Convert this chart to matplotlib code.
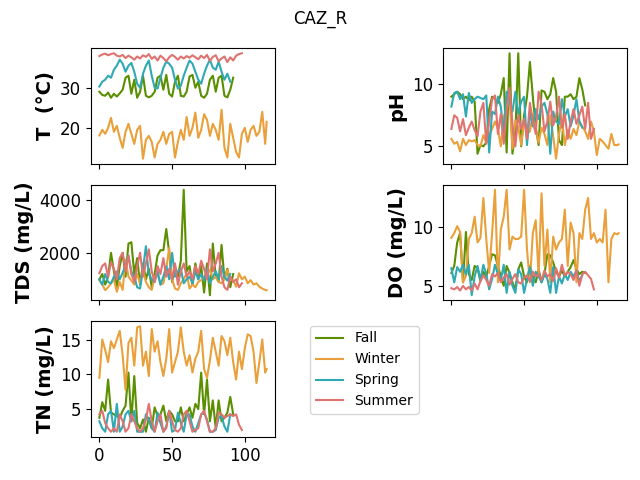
import numpy as np
import matplotlib
matplotlib.use("Agg")
import matplotlib.pyplot as plt

seasons = ["Fall", "Winter", "Spring", "Summer"]
colors = {"Fall": "#5a8f00", "Winter": "#e9a03a", "Spring": "#2fa9b3", "Summer": "#e0736f"}

x_fall = list(range(0, 93, 2))
x_winter = list(range(0, 115, 2)) + [115]
x_spring = list(range(0, 91, 2))
x_summer = list(range(0, 99, 2))

# Temperature
T_fall = [29.0, 28.2, 28.0, 28.8, 27.5, 28.5, 27.8, 28.6, 29.5, 32.5, 33.0, 28.5, 32.0, 27.5, 29.0, 33.0,
          28.0, 27.6, 28.0, 29.0, 32.5, 33.0, 29.5, 33.2, 28.5, 27.8, 31.5, 33.0, 28.0, 27.8, 29.0, 32.8,
          33.2, 30.0, 31.5, 28.0, 27.5, 28.5, 32.0, 33.0, 29.0, 32.5, 33.0, 28.0, 27.6, 29.5, 32.5]
T_winter = [18.1, 19.5, 18.5, 20.0, 22.5, 19.0, 20.5, 17.5, 15.0, 19.0, 21.0, 18.5, 16.0, 19.5, 20.5, 12.3,
            17.0, 18.0, 16.5, 12.6, 16.0, 17.0, 19.0, 16.0, 18.5, 19.0, 12.6, 16.5, 19.5, 17.0, 22.7, 18.0,
            20.0, 23.8, 17.5, 19.5, 23.4, 22.0, 18.0, 21.0, 19.5, 17.0, 24.5, 15.0, 12.6, 21.0, 17.5, 14.0,
            12.6, 18.5, 20.0, 16.5, 19.5, 20.5, 18.0, 19.0, 24.0, 16.0, 21.5]
T_spring = [30.3, 31.5, 32.0, 33.0, 32.5, 34.5, 35.5, 37.0, 36.0, 34.0, 35.5, 36.2, 34.0, 31.0, 30.0, 33.5,
            35.5, 36.8, 33.0, 30.0, 29.8, 32.5, 35.0, 36.5, 36.0, 35.0, 32.0, 29.8, 30.5, 33.0, 35.0, 36.8,
            36.0, 34.0, 32.0, 31.0, 33.5, 35.5, 37.0, 35.0, 34.5, 36.5, 34.0, 32.0, 33.5, 31.5]
T_summer = [37.9, 38.3, 38.5, 38.1, 38.4, 38.6, 38.0, 37.8, 38.2, 37.4, 38.0, 37.6, 37.0, 37.8, 37.3, 38.1,
            37.7, 38.4, 37.2, 37.8, 36.8, 38.0, 37.4, 36.6, 37.6, 38.2, 37.7, 37.0, 37.8, 37.3, 37.9, 37.5,
            38.1, 37.6, 37.1, 38.0, 37.4, 38.2, 36.7, 37.7, 38.1, 36.6, 37.3, 37.8, 36.4, 37.6, 36.8, 38.0,
            38.4, 38.6]

# pH
pH_fall = [9.0, 9.2, 9.4, 9.2, 8.8, 9.0, 8.7, 9.0, 8.6, 4.4, 5.1, 5.0, 5.3, 8.0, 9.0, 8.8, 8.5, 9.2, 10.5,
           4.5, 12.5, 4.4, 6.0, 12.5, 5.0, 7.5, 9.0, 11.8, 9.0, 6.5, 5.1, 9.5, 9.4, 8.8, 9.2, 10.5, 9.4,
           5.5, 5.1, 9.0, 9.0, 9.2, 8.8, 9.0, 10.5, 9.6, 8.3]
pH_winter = [5.6, 5.2, 5.35, 4.6, 5.6, 5.1, 5.5, 5.4, 5.5, 5.1, 5.0, 5.9, 5.3, 5.9, 6.4, 7.0, 6.4, 5.0, 7.4,
             8.0, 8.9, 4.8, 7.1, 6.5, 5.1, 7.2, 6.0, 6.2, 7.6, 6.4, 5.3, 6.5, 6.0, 5.1, 7.5, 5.8, 4.0, 6.0,
             7.2, 5.1, 6.3, 5.6, 6.4, 5.9, 7.0, 6.6, 6.2, 5.6, 7.0, 6.2, 4.3, 5.6, 5.4, 5.1, 4.8, 6.0, 5.1,
             5.1, 5.15]
pH_spring = [8.2, 9.3, 9.4, 8.8, 9.2, 7.4, 9.3, 8.5, 8.8, 9.0, 8.9, 8.8, 9.1, 4.5, 7.8, 7.6, 9.0, 8.2, 6.0,
             9.4, 8.6, 7.8, 9.4, 7.6, 8.6, 9.0, 5.1, 7.8, 6.6, 8.0, 7.2, 8.2, 8.5, 7.6, 4.4, 7.8, 7.0, 6.8,
             8.8, 7.4, 8.0, 6.6, 7.5, 8.8, 7.0, 6.5]
pH_summer = [6.4, 7.5, 7.3, 6.2, 7.2, 5.9, 6.5, 7.0, 6.3, 5.8, 7.8, 8.5, 5.2, 7.0, 8.8, 9.1, 6.0, 7.6, 5.2,
             7.8, 9.7, 6.8, 5.0, 7.5, 6.4, 7.2, 5.6, 8.5, 7.0, 6.0, 9.4, 8.4, 6.2, 7.0, 8.6, 6.7, 7.4, 9.0,
             6.5, 7.6, 5.6, 7.0, 8.0, 6.8, 7.5, 8.2, 6.4, 8.5, 5.6, 6.4]

# TDS
TDS_fall = [1000, 1200, 800, 1100, 2000, 1300, 700, 1500, 2000, 1100, 2350, 2400, 1200, 1800, 800, 1600,
            1000, 1400, 700, 1200, 1900, 2100, 2100, 2900, 2000, 900, 1500, 1100, 1700, 4380, 1300, 1500,
            800, 1600, 1000, 1500, 500, 1600, 400, 2350, 1100, 900, 2300, 1000, 1400, 700, 1200]
TDS_winter = [970, 800, 590, 700, 850, 1000, 530, 900, 600, 1740, 1100, 950, 800, 1200, 850, 1360, 900,
              700, 600, 1100, 1230, 800, 850, 1400, 2190, 1000, 650, 600, 850, 1000, 1230, 650, 800, 700,
              900, 970, 1100, 1200, 1360, 1000, 1100, 900, 850, 1000, 1360, 1000, 970, 720, 1230, 1000,
              1100, 850, 970, 800, 850, 720, 650, 600, 590]
TDS_spring = [1000, 800, 1200, 900, 850, 1100, 1300, 1000, 1250, 1500, 1900, 1300, 1100, 700, 650, 1400,
              2250, 1200, 1000, 900, 1300, 800, 1100, 1500, 1000, 2000, 1100, 1300, 1400, 850, 1000, 1100,
              850, 1300, 1000, 1200, 950, 1400, 850, 1100, 1300, 1000, 1500, 1100, 950, 1200]
TDS_summer = [1230, 1500, 1600, 1100, 1650, 1400, 1000, 1800, 2000, 1300, 1900, 1200, 900, 1500, 2000, 1100,
              1600, 2130, 1300, 900, 1500, 1200, 1800, 1100, 1400, 1000, 1600, 800, 1300, 1600, 1100, 1300,
              1000, 1500, 1200, 1700, 1400, 1000, 2130, 1300, 1600, 2000, 1100, 700, 600, 1100, 900, 1000,
              700, 850]

# DO
DO_fall = [6.1, 6.7, 8.7, 9.5, 5.3, 9.6, 6.0, 5.5, 6.7, 6.5, 5.4, 6.2, 5.8, 6.7, 7.7, 7.6, 6.7, 5.8, 5.0,
           6.7, 6.1, 5.3, 4.7, 6.4, 7.0, 5.8, 5.3, 6.7, 5.8, 5.3, 6.4, 5.3, 6.0, 7.7, 7.6, 7.0, 6.2, 5.8,
           6.3, 5.8, 6.2, 6.6, 7.2, 6.4, 6.0, 6.2, 6.1]
DO_winter = [9.1, 9.5, 10.1, 9.6, 5.3, 5.85, 9.0, 9.5, 10.9, 8.7, 9.1, 12.5, 9.0, 6.1, 9.5, 13.2, 5.3, 9.8,
             10.9, 13.2, 8.1, 9.2, 9.0, 9.0, 9.2, 13.2, 8.1, 5.3, 9.5, 10.6, 5.85, 12.9, 6.7, 9.8, 5.3, 9.2,
             8.1, 8.7, 9.0, 11.5, 6.7, 10.4, 9.5, 5.3, 9.5, 9.0, 11.5, 12.5, 9.0, 9.5, 8.7, 9.0, 8.7, 11.5,
             5.3, 9.0, 9.5, 9.4, 9.5]
DO_spring = [6.5, 5.3, 6.6, 6.2, 6.8, 6.0, 6.8, 4.2, 5.8, 6.7, 5.5, 6.8, 6.0, 4.7, 5.6, 6.8, 6.0, 5.5, 6.8,
             4.4, 6.2, 5.0, 4.4, 6.4, 6.0, 4.4, 5.6, 6.6, 5.0, 6.2, 5.8, 5.3, 6.0, 5.6, 4.4, 6.6, 4.4, 5.8,
             5.2, 6.0, 5.5, 6.2, 5.8, 6.3, 5.4, 5.9]
DO_summer = [4.8, 4.7, 4.9, 4.6, 5.0, 4.7, 4.9, 4.6, 5.2, 4.7, 5.4, 5.9, 5.5, 5.0, 6.0, 5.8, 6.1, 5.3, 5.7,
             6.0, 5.1, 5.6, 6.0, 5.3, 5.2, 5.7, 5.9, 5.4, 6.2, 5.8, 6.0, 5.5, 6.3, 5.8, 6.0, 5.4, 6.5, 5.7,
             6.8, 5.9, 6.2, 6.0, 5.5, 6.3, 5.0, 6.0, 6.2, 5.9, 5.6, 4.7]

# TN
TN_fall = [3.75, 6.0, 4.75, 9.25, 4.5, 4.25, 4.0, 3.75, 4.75, 5.5, 10.25, 3.25, 9.75, 3.0, 2.25, 3.5, 1.75,
           3.75, 2.25, 5.25, 4.0, 4.25, 5.5, 3.25, 4.75, 4.25, 3.25, 3.25, 5.25, 3.25, 4.25, 5.25, 3.75,
           5.75, 5.0, 10.25, 4.25, 9.25, 3.25, 6.25, 2.25, 6.25, 3.25, 3.75, 4.5, 6.75, 4.25]
TN_winter = [9.5, 15.0, 13.5, 11.75, 14.75, 13.75, 15.0, 16.25, 12.75, 7.75, 14.5, 15.25, 11.25, 16.75,
             16.9, 11.25, 13.25, 9.75, 16.5, 13.25, 14.75, 11.75, 9.75, 12.25, 16.5, 10.25, 11.75, 13.25,
             16.75, 13.25, 11.25, 12.75, 10.25, 12.25, 13.25, 16.25, 10.75, 9.5, 12.0, 15.25, 13.25, 11.25,
             15.5, 14.75, 12.75, 15.25, 11.75, 9.25, 13.25, 10.75, 13.75, 15.75, 15.5, 13.25, 8.75, 11.75,
             15.0, 10.25, 10.75]
TN_spring = [3.25, 2.25, 1.75, 4.25, 4.75, 1.75, 5.75, 1.75, 2.5, 4.25, 4.75, 3.25, 4.75, 1.75, 1.75, 1.75,
             4.25, 3.5, 2.25, 1.75, 4.5, 3.0, 1.75, 2.5, 4.75, 1.75, 2.0, 4.5, 3.0, 1.75, 4.25, 4.25, 2.5,
             1.75, 3.0, 4.25, 4.5, 3.5, 1.75, 1.75, 2.0, 3.75, 4.0, 2.5, 1.75, 4.25]
TN_summer = [4.25, 4.75, 3.0, 2.25, 1.75, 2.25, 1.75, 4.25, 3.25, 1.75, 2.25, 4.25, 3.25, 2.25, 1.75, 2.25,
             3.5, 5.75, 3.25, 1.75, 3.25, 4.25, 1.75, 2.25, 4.75, 3.25, 2.0, 1.75, 2.25, 4.25, 4.75, 3.25,
             1.75, 2.0, 2.25, 4.25, 4.75, 3.25, 1.75, 1.75, 2.25, 4.5, 4.25, 3.75, 4.0, 4.25, 4.0, 4.25,
             2.75, 2.0]

xs = {"Fall": x_fall, "Winter": x_winter, "Spring": x_spring, "Summer": x_summer}
panels = [
    ("T  (°C)", {"Fall": T_fall, "Winter": T_winter, "Spring": T_spring, "Summer": T_summer}),
    ("pH", {"Fall": pH_fall, "Winter": pH_winter, "Spring": pH_spring, "Summer": pH_summer}),
    ("TDS (mg/L)", {"Fall": TDS_fall, "Winter": TDS_winter, "Spring": TDS_spring, "Summer": TDS_summer}),
    ("DO (mg/L)", {"Fall": DO_fall, "Winter": DO_winter, "Spring": DO_spring, "Summer": DO_summer}),
    ("TN (mg/L)", {"Fall": TN_fall, "Winter": TN_winter, "Spring": TN_spring, "Summer": TN_summer}),
]

plt.rcParams["xtick.labelsize"] = 12
plt.rcParams["ytick.labelsize"] = 12

fig, axes = plt.subplots(3, 2, sharex=True, figsize=(6.4, 4.8), dpi=100)
fig.subplots_adjust(left=91/640, right=627/640, top=1-48/480, bottom=1-437/480,
                    wspace=0.913, hspace=0.177)
flat = axes.flatten()
handles = []
for i, (label, data) in enumerate(panels):
    ax = flat[i]
    for s in seasons:
        ln, = ax.plot(xs[s], data[s], color=colors[s], label=s, linewidth=1.5)
        if i == 0:
            handles.append(ln)
    ax.set_ylabel(label, fontsize=14, fontweight="bold")
flat[5].axis("off")
fig.suptitle("CAZ_R", fontsize=12)
fig.legend(handles=handles, labels=seasons, loc="upper left",
           bbox_to_anchor=(303/640, 1-319/480), fontsize=10)
fig.savefig("out.png", dpi=100)
